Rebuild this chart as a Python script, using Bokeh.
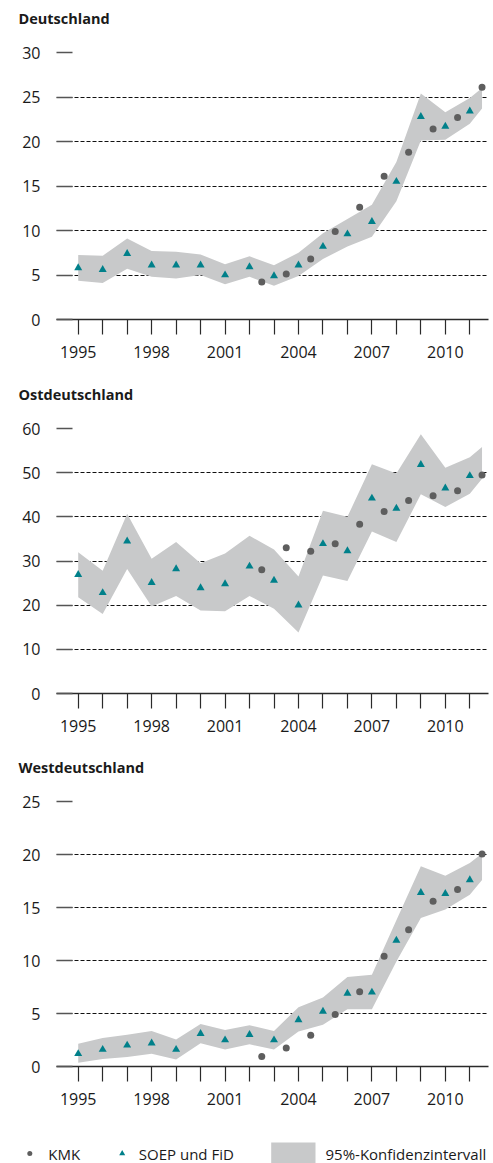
from bokeh.plotting import figure
from bokeh.layouts import column, row
from bokeh.models import Range1d, FixedTicker, Title
from bokeh.embed import file_html
from bokeh.resources import INLINE
from bokeh.core.properties import value

# ---------------- data ----------------
soep_years = list(range(1995, 2012))
kmk_years = [2002.5, 2003.5, 2004.5, 2005.5, 2006.5, 2007.5, 2008.5, 2009.5, 2010.5, 2011.5]
band_years = list(range(1995, 2012)) + [2011.5]
x_labels = {1995: "1995", 1998: "1998", 2001: "2001", 2004: "2004", 2007: "2007", 2010: "2010"}

de_soep = [5.8, 5.6, 7.4, 6.1, 6.1, 6.1, 5.0, 5.9, 4.9, 6.1, 8.2, 9.6, 11.0, 15.5, 22.8, 21.7, 23.4]
de_kmk = [4.2, 5.1, 6.8, 9.9, 12.6, 16.1, 18.8, 21.4, 22.7, 26.1]
de_lo = [4.35, 4.1, 5.7, 4.8, 4.6, 5.0, 3.95, 4.8, 3.8, 4.9, 6.8, 8.2, 9.3, 13.3, 20.1, 20.2, 22.0, 23.7]
de_hi = [7.25, 7.15, 9.1, 7.7, 7.6, 7.3, 6.2, 7.1, 6.1, 7.5, 9.7, 11.3, 12.9, 17.7, 25.4, 23.3, 24.9, 26.0]

ost_soep = [26.9, 22.8, 34.5, 25.1, 28.2, 23.9, 24.8, 28.8, 25.6, 20.0, 33.9, 32.3, 44.2, 41.9, 51.8, 46.5, 49.3]
ost_kmk = [28.0, 33.0, 32.2, 33.9, 38.3, 41.2, 43.7, 44.8, 45.9, 49.5]
ost_lo = [21.8, 18.0, 28.2, 19.7, 22.1, 18.8, 18.6, 22.1, 19.2, 13.8, 26.7, 25.5, 36.7, 34.3, 45.1, 42.2, 45.2, 48.6]
ost_hi = [32.0, 27.8, 40.7, 30.5, 34.3, 29.5, 31.7, 35.7, 32.6, 26.5, 41.4, 40.0, 51.9, 49.8, 58.7, 51.1, 53.5, 55.8]

we_soep = [1.2, 1.6, 2.0, 2.2, 1.6, 3.1, 2.5, 3.0, 2.5, 4.4, 5.2, 6.9, 7.0, 11.9, 16.4, 16.3, 17.6]
we_kmk = [0.95, 1.75, 2.95, 4.9, 7.05, 10.4, 12.9, 15.6, 16.7, 20.05]
we_lo = [0.35, 0.7, 0.9, 1.2, 0.65, 2.2, 1.6, 2.1, 1.6, 3.3, 3.95, 5.4, 5.4, 9.9, 14.0, 14.8, 16.2, 17.6]
we_hi = [2.15, 2.7, 3.0, 3.35, 2.55, 4.0, 3.45, 3.9, 3.35, 5.6, 6.5, 8.45, 8.65, 13.8, 18.9, 18.0, 19.2, 20.1]

legend_labels = ["KMK", "SOEP und FiD", "95%-Konfidenzintervall"]

# ---------------- style ----------------
FONT = "Open Sans"
TXT = "#1a1a1a"
TEAL = "#00808a"
DOT = "#5e5e5e"
BAND = "#c8c9ca"
W = 493


def panel(title, soep, kmk, lo, hi, ymax, ystep, height, frame_h, spacer):
    p = figure(width=W, height=height, output_backend="svg", toolbar_location=None,
               x_range=Range1d(1994.113, 2011.764), y_range=Range1d(0, ymax),
               min_border_left=56, min_border_right=5,
               min_border_top=0, min_border_bottom=height - frame_h - 53)
    p.outline_line_color = None
    p.background_fill_color = "white"
    p.border_fill_color = "white"
    # spacer between frame and the title (title is outermost)
    p.add_layout(Title(text=" ", text_font_size="1px", standoff=spacer), "above")
    p.title.text = title
    p.title.text_font = FONT
    p.title.text_font_size = "14.5px"
    p.title.text_font_style = "bold"
    p.title.text_color = TXT
    p.title.align = "left"
    p.title.offset = -38
    p.title.standoff = 12

    p.varea(x=band_years, y1=lo, y2=hi, fill_color=BAND)
    p.scatter(kmk_years, kmk, marker="circle", size=7, fill_color=DOT, line_color=None)
    p.scatter(soep_years, soep, marker="triangle", size=8, fill_color=TEAL, line_color=None)

    p.xgrid.grid_line_color = None
    p.ygrid.grid_line_color = "#111111"
    p.ygrid.grid_line_dash = "4 2"
    p.ygrid.grid_line_width = 1
    p.ygrid.ticker = FixedTicker(ticks=list(range(0, ymax + 1, ystep)))

    xa = p.xaxis[0]
    xa.ticker = FixedTicker(ticks=soep_years)
    xa.major_label_overrides = {y: x_labels.get(y, "") for y in soep_years}
    xa.axis_line_color = "#2a2a2a"
    xa.axis_line_width = 1.6
    xa.major_tick_line_color = "#2a2a2a"
    xa.major_tick_line_width = 1.2
    xa.major_tick_out = 15
    xa.major_tick_in = 0
    xa.minor_tick_line_color = None
    xa.major_label_standoff = 11
    xa.major_label_text_font = FONT
    xa.major_label_text_font_size = "16px"
    xa.major_label_text_color = TXT

    ya = p.yaxis[0]
    ya.ticker = FixedTicker(ticks=list(range(0, ymax + 1, ystep)))
    ya.axis_line_color = None
    ya.major_tick_line_color = "#555555"
    ya.major_tick_line_width = 1.5
    ya.major_tick_in = 16
    ya.major_tick_out = 0
    ya.minor_tick_line_color = None
    ya.major_label_standoff = 16
    ya.major_label_text_font = FONT
    ya.major_label_text_font_size = "16px"
    ya.major_label_text_color = TXT
    return p


p1 = panel("Deutschland", de_soep, de_kmk, de_lo, de_hi, 30, 5, 376, 266, 16)
p2 = panel("Ostdeutschland", ost_soep, ost_kmk, ost_lo, ost_hi, 60, 10, 373, 264, 16)
p3 = panel("Westdeutschland", we_soep, we_kmk, we_lo, we_hi, 25, 5, 383, 264, 16)

# ---------------- legend ----------------
LH = 31
pl = figure(width=W, height=LH, output_backend="svg", toolbar_location=None,
            x_range=Range1d(0, W), y_range=Range1d(0, LH),
            min_border=0, min_border_left=0, min_border_right=0,
            min_border_top=0, min_border_bottom=0,
            x_axis_type=None, y_axis_type=None)
pl.outline_line_color = None
pl.xgrid.grid_line_color = None
pl.ygrid.grid_line_color = None
ly = 10
pl.scatter([29.3], [ly], marker="circle", size=5, fill_color=DOT, line_color=None)
pl.scatter([121.7], [ly], marker="triangle", size=6, fill_color=TEAL, line_color=None)
pl.quad(left=[270.7], right=[315], bottom=[-2], top=[21], fill_color=BAND, line_color=None)
pl.text(x=[47.7, 138.3, 325], y=[ly, ly, ly], text=legend_labels,
        text_font=value(FONT), text_font_size="15px", text_color=TXT,
        text_baseline="middle", text_align="left")

layout = column(column(p1, p2, p3, spacing=0), row(pl), spacing=0)
open("out.html", "w").write(file_html(layout, INLINE))
